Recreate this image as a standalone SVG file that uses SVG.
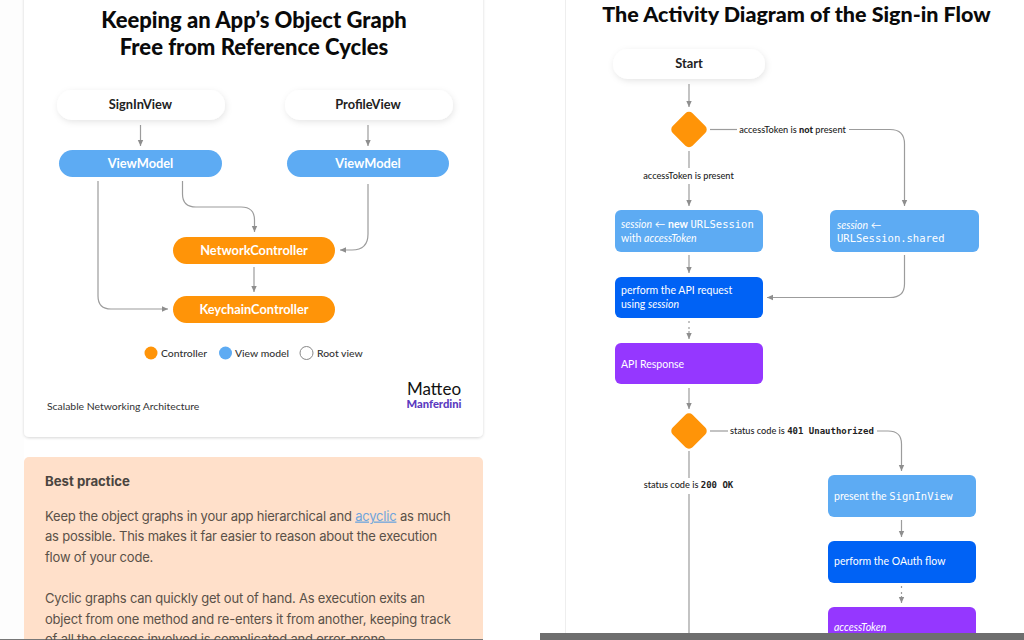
<svg xmlns="http://www.w3.org/2000/svg" width="1024" height="640" viewBox="0 0 1024 640">
<defs>
<marker id="a" markerUnits="userSpaceOnUse" markerWidth="7" markerHeight="7" refX="6" refY="3.5" orient="auto"><path d="M0 0.800L6 3.500L0 6.200Z" fill="#8e8e8e"/></marker>
<filter id="s" x="-20%" y="-40%" width="140%" height="200%"><feDropShadow dx="1" dy="2" stdDeviation="3" flood-color="#000" flood-opacity=".1"/></filter>
<filter id="c" x="-5%" y="-5%" width="110%" height="110%"><feDropShadow dx="0" dy="1" stdDeviation="1.5" flood-color="#000" flood-opacity=".16"/></filter>
</defs>
<style>
text{font-family:"Lato","Liberation Sans",sans-serif}
.t{font-size:22px;font-weight:900;fill:#0a0a0a;text-anchor:middle}
.r{font-size:21.5px}
.n{font-size:12.8px;font-weight:700;text-anchor:middle}
.w{fill:#fff}.k{fill:#222}
.m{font-family:"DejaVu Sans Mono","Liberation Mono",monospace}
.l{font-size:9.2px;font-weight:500;fill:#222;text-anchor:middle}
.b{font-size:10.5px;fill:#fff}
.p{font-family:"Inter","Liberation Sans",sans-serif;font-size:13px;letter-spacing:-.2px;fill:#5a5148}
.g{fill:none;stroke:#9c9c9c;stroke-width:1.2}
.h{marker-end:url(#a)}
.x{font-size:10.4px;font-weight:500;fill:#333}
.q{font-family:"Inter","Liberation Sans",sans-serif;font-size:13.2px;font-weight:700;fill:#4a4540}
</style>
<rect width="1024" height="640" fill="#fff"/>
<rect x="0" y="0" width="24" height="640" fill="#fdfdfd"/>
<rect x="24" y="-10" width="459" height="447" rx="5" fill="#fff" filter="url(#c)"/>
<rect x="24" y="457" width="459" height="190" rx="5" fill="#ffe0ca"/>
<rect x="0" y="639" width="483" height="1" fill="#777"/>
<rect x="565" y="0" width="1" height="634" fill="#eeeeee"/>
<text class="t" x="254" y="28">Keeping an App’s Object Graph</text>
<text class="t" x="254" y="55">Free from Reference Cycles</text>
<text class="t r" x="796.500" y="22">The Activity Diagram of the Sign-in Flow</text>

<g id="connectors">
<path class="g h" d="M140.500 125V146"/>
<path class="g h" d="M368 125V146"/>
<path class="g h" d="M182.500 181V194Q182.500 207 196 207H241Q254.500 207 254.500 220V232"/>
<path class="g h" d="M368 184V234Q368 250 352 250H340"/>
<path class="g h" d="M254 267V292"/>
<path class="g h" d="M98 181V296Q98 309 111 309H168"/>
<path class="g h" d="M689 84V107"/>
<path class="g" d="M689 151V168"/>
<path class="g h" d="M689 184V206"/>
<path class="g h" d="M689 255V273"/>
<path class="g" d="M710 129.500H737"/>
<path class="g h" d="M849 129.500H890Q904.500 129.500 904.500 144V206"/>
<path class="g h" d="M904.500 255V284Q904.500 297.500 890 297.500H767"/>
<path class="g" stroke-dasharray="2 4" d="M689 321V331"/>
<path class="g h" d="M689 331V339"/>
<path class="g h" d="M689 388V409"/>
<path class="g" d="M710 431H728"/>
<path class="g h" d="M877 431H888Q901.500 431 901.500 444V471"/>
<path class="g" d="M689 451V478"/>
<path class="g" d="M689 494V634"/>
<path class="g h" d="M901.500 520V537"/>
<path class="g" stroke-dasharray="2 4" d="M901.500 586V596"/>
<path class="g h" d="M901.500 596V603"/>
</g>

<g id="signinview"><rect x="57" y="90" width="168" height="30" rx="15" fill="#fff" filter="url(#s)"/><text class="n k" x="140.500" y="109">SignInView</text></g>
<g id="profileview"><rect x="285" y="90" width="168" height="30" rx="15" fill="#fff" filter="url(#s)"/><text class="n k" x="368" y="109">ProfileView</text></g>
<g id="viewmodel-1"><rect x="59" y="150" width="163" height="27" rx="13.500" fill="#5dabf3"/><text class="n w" x="140.500" y="168">ViewModel</text></g>
<g id="viewmodel-2"><rect x="287" y="150" width="162" height="27" rx="13.500" fill="#5dabf3"/><text class="n w" x="368" y="168">ViewModel</text></g>
<g id="networkcontroller"><rect x="173" y="237" width="162" height="27" rx="13.500" fill="#ff9408"/><text class="n w" x="254" y="254.500">NetworkController</text></g>
<g id="keychaincontroller"><rect x="173" y="296" width="162" height="27" rx="13.500" fill="#ff9408"/><text class="n w" x="254" y="313.500">KeychainController</text></g>

<g id="legend">
<circle cx="151" cy="353" r="6.500" fill="#ff9408"/><text class="x" x="161" y="356.500">Controller</text>
<circle cx="225.500" cy="353" r="6.500" fill="#5dabf3"/><text class="x" x="235" y="356.500">View model</text>
<circle cx="306.500" cy="353" r="6.500" fill="#fff" stroke="#888"/><text class="x" x="317" y="356.500">Root view</text>
</g>
<text x="47" y="409.500" font-size="10.400" fill="#333">Scalable Networking Architecture</text>
<text x="434" y="395" font-size="17" fill="#111" text-anchor="middle">Matteo</text>
<text x="434" y="407.500" font-size="11.200" font-weight="900" fill="#5b3ac0" text-anchor="middle">Manferdini</text>

<text class="q" x="45" y="486">Best practice</text>
<text class="p" x="45" y="520.500">Keep the object graphs in your app hierarchical and <tspan fill="#6fa5dc" text-decoration="underline">acyclic</tspan> as much</text>
<text class="p" x="45" y="541">as possible. This makes it far easier to reason about the execution</text>
<text class="p" x="45" y="561.500">flow of your code.</text>
<text class="p" x="45" y="603">Cyclic graphs can quickly get out of hand. As execution exits an</text>
<text class="p" x="45" y="623.500">object from one method and re-enters it from another, keeping track</text>
<text class="p" x="45" y="644">of all the classes involved is complicated and error-prone.</text>

<g id="start"><rect x="613" y="49" width="152" height="30" rx="15" fill="#fff" filter="url(#s)"/><text class="n k" x="689" y="68">Start</text></g>
<g id="decision-1"><rect x="675" y="115.500" width="28" height="28" rx="5" fill="#ff9408" transform="rotate(45 689 129.500)"/></g>
<g id="session-new"><rect x="615" y="210" width="148" height="42" rx="6" fill="#5dabf3"/><text class="b" x="621" y="228"><tspan font-style="italic">session</tspan> ← <tspan font-weight="700">new</tspan> <tspan class="m" font-size="10.500">URLSession</tspan></text><text class="b" x="621" y="242">with <tspan font-style="italic">accessToken</tspan></text></g>
<g id="session-shared"><rect x="830" y="210" width="149" height="42" rx="6" fill="#5dabf3"/><text class="b" x="837" y="229"><tspan font-style="italic">session</tspan> ←</text><text class="b m" x="837" y="242">URLSession.shared</text></g>
<g id="api-request"><rect x="615" y="277" width="148" height="41" rx="6" fill="#0062f5"/><text class="b" x="621" y="294">perform the API request</text><text class="b" x="621" y="308">using <tspan font-style="italic">session</tspan></text></g>
<g id="api-response"><rect x="615" y="343" width="148" height="41" rx="6" fill="#9537ff"/><text class="b" x="621" y="367.500">API Response</text></g>
<g id="decision-2"><rect x="675" y="417" width="28" height="28" rx="5" fill="#ff9408" transform="rotate(45 689 431)"/></g>
<g id="present-signin"><rect x="828" y="475" width="148" height="42" rx="6" fill="#5dabf3"/><text class="b" x="834" y="499.500">present the <tspan class="m" font-size="10.500">SignInView</tspan></text></g>
<g id="oauth"><rect x="828" y="541" width="148" height="42" rx="6" fill="#0062f5"/><text class="b" x="834" y="565">perform the OAuth flow</text></g>
<g id="access-token"><rect x="828" y="607" width="148" height="42" rx="6" fill="#9537ff"/><text class="b" x="834" y="631" font-style="italic">accessToken</text></g>

<text class="l" x="688.500" y="179">accessToken is present</text>
<text class="l" x="792.500" y="132.500">accessToken is <tspan font-weight="900">not</tspan> present</text>
<text class="l" x="688.500" y="488">status code is <tspan class="m" font-size="9" font-weight="700">200 OK</tspan></text>
<text class="l" x="802" y="434">status code is <tspan class="m" font-size="9" font-weight="700">401 Unauthorized</tspan></text>
<rect x="540" y="633" width="484" height="7" fill="#6e6e6e"/>
</svg>
